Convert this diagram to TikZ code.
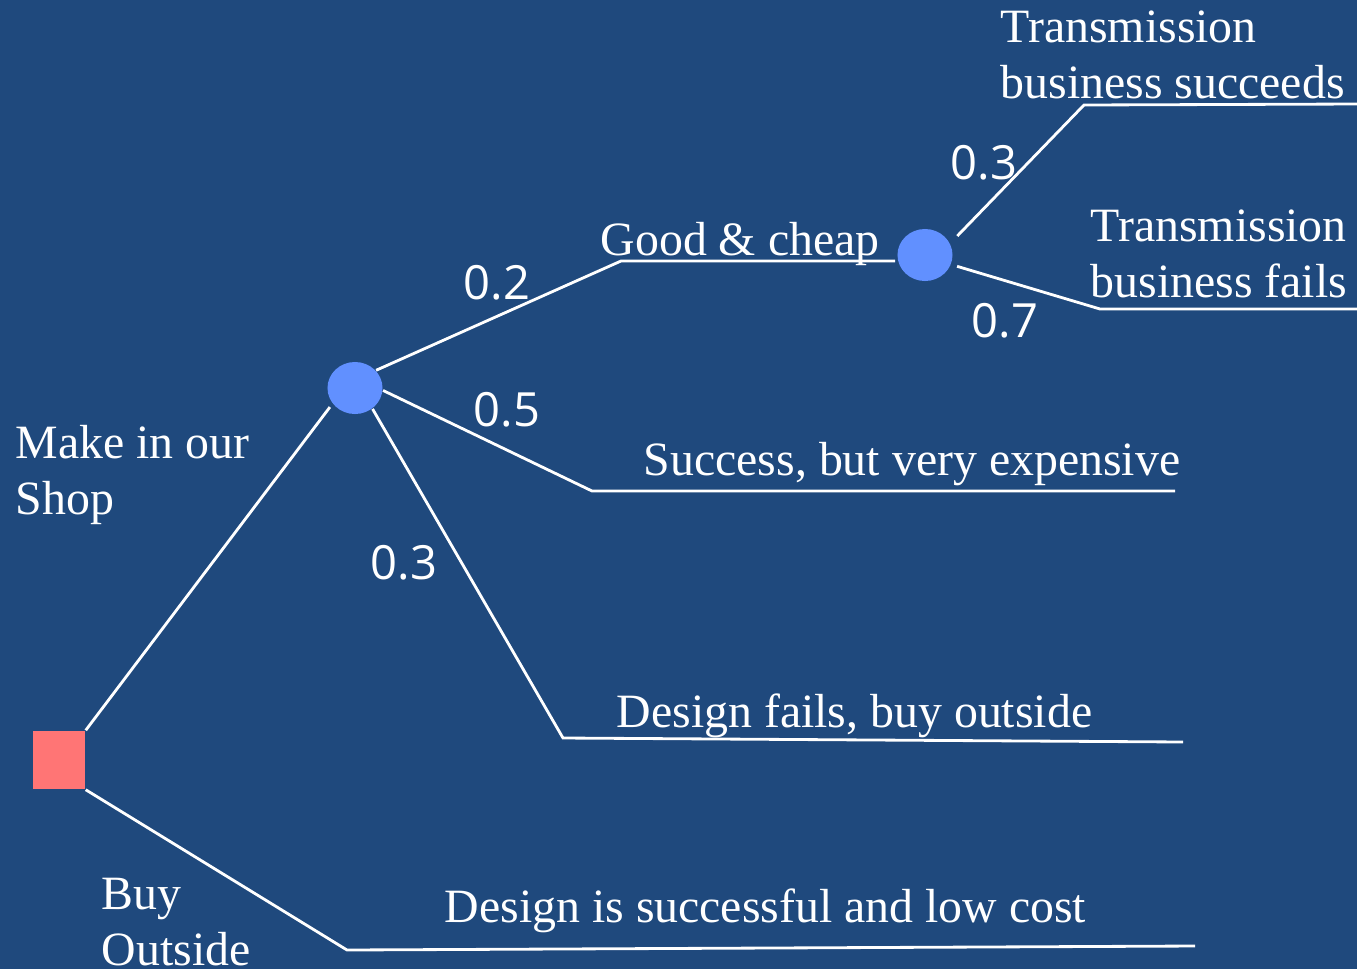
\documentclass[tikz,border=0pt]{standalone}
\usepackage{fontspec}
\setmainfont{Liberation Serif}
\newfontfamily\probfont{Open Sans}
\usetikzlibrary{shapes.geometric}
\definecolor{deepblue}{HTML}{1F497D}
\definecolor{salmon}{HTML}{FF7575}
\definecolor{chancecol}{HTML}{6190FF}
\tikzstyle{decision}=[fill=salmon,minimum width=0.52cm,minimum height=0.58cm,inner sep=0pt]
\tikzstyle{chance}=[fill=chancecol,ellipse,minimum width=0.55cm,minimum height=0.52cm,inner sep=0pt]
\tikzstyle{branch}=[draw=white,line width=0.8pt]
\tikzstyle{outcome}=[text=white,inner sep=0pt,anchor=base west,align=left,font=\fontsize{13.6}{15.9}\selectfont]
\tikzstyle{prob}=[text=white,inner sep=0pt,font=\probfont\fontsize{13.4}{14}\selectfont]

\begin{document}
\begin{tikzpicture}[x=0.01cm,y=-0.01cm]
    \fill[deepblue] (0,0) rectangle (1357,969);
    \useasboundingbox (0,0) rectangle (1357,969);
    % decision and chance points
    \node [decision] (make) at (59,760) {};
    \node [chance] (c1) at (355,388) {};
    \node [chance] (c2) at (925,255) {};
    % ends of the outcome lines
    \coordinate (good-l) at (621,261);
    \coordinate (good-r) at (895,261);
    \coordinate (exp-l) at (592,491);
    \coordinate (exp-r) at (1175,491);
    \coordinate (fail-l) at (563,738);
    \coordinate (fail-r) at (1183,742);
    \coordinate (buy-l) at (347,950);
    \coordinate (buy-r) at (1195,946);
    \coordinate (succ-l) at (1084,105);
    \coordinate (succ-r) at (1357,104);
    \coordinate (tfail-l) at (1100,309);
    \coordinate (tfail-r) at (1357,309);
    % branches
    \draw [branch, shorten >=0.04cm] (make.north east) -- (c1.215);
    \draw [branch] (make.south east) -- (buy-l) -- (buy-r);
    \draw [branch] (c1.40) -- (good-l) -- (good-r);
    \draw [branch] (c1.-5) -- (exp-l) -- (exp-r);
    \draw [branch] (c1.-50) -- (fail-l) -- (fail-r);
    \draw [branch, shorten <=0.1cm] (c2.25) -- (succ-l) -- (succ-r);
    \draw [branch, shorten <=0.06cm] (c2.-20) -- (tfail-l) -- (tfail-r);
    % outcomes (base = last line)
    \node [outcome] (good) at (600,255) {Good \& cheap};
    \node [outcome] (exp) at (643,475) {Success, but very expensive};
    \node [outcome] (fail) at (616,727) {Design fails, buy outside};
    \node [outcome] (low) at (444,922) {Design is successful and low cost};
    \node [outcome] (makelbl) at (15,514) {Make in our\\Shop};
    \node [outcome] (buylbl) at (101,965) {Buy\\Outside};
    \node [outcome] (tsucc) at (1000,98) {Transmission\\business succeeds};
    \node [outcome] (tfail) at (1090,297) {Transmission\\business fails};
    % probabilities
    \node [prob] (p-good) at (497,283) {0.2};
    \node [prob] (p-exp) at (507,410) {0.5};
    \node [prob] (p-fail) at (404,563) {0.3};
    \node [prob] (p-succ) at (984,163) {0.3};
    \node [prob] (p-tfail) at (1005,321) {0.7};
\end{tikzpicture}
\end{document}
